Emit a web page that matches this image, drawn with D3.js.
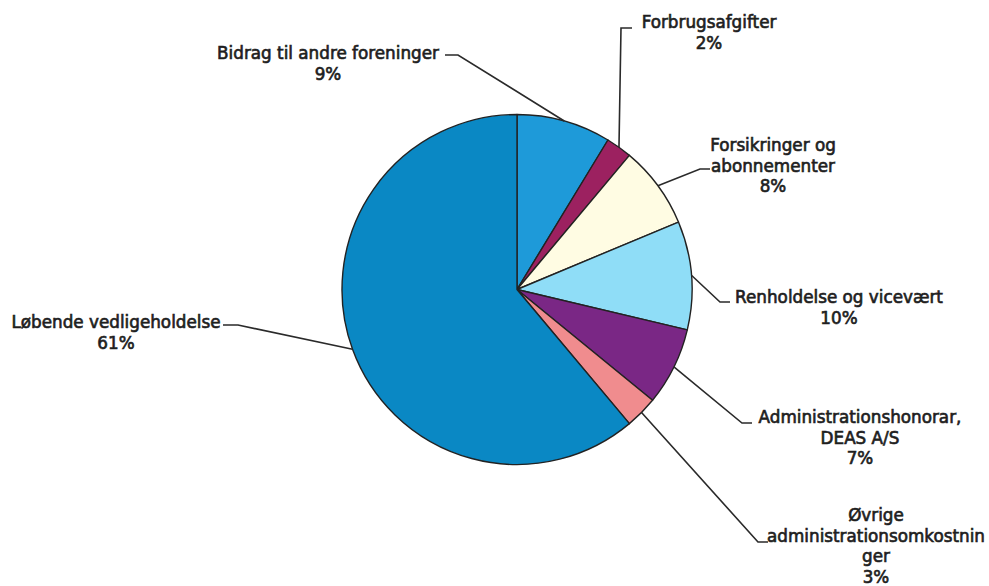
<!DOCTYPE html>
<html>
<head>
<meta charset="utf-8">
<script src="https://cdn.jsdelivr.net/npm/d3@7"></script>
<style>
html,body{margin:0;padding:0;background:#fff;}
svg{display:block;}
</style>
</head>
<body>
<svg id="chart" width="989" height="586"></svg>
<script>
// ---- data ----
const categories = [
  "Bidrag til andre foreninger",
  "Forbrugsafgifter",
  "Forsikringer og abonnementer",
  "Renholdelse og vicevært",
  "Administrationshonorar, DEAS A/S",
  "Øvrige administrationsomkostninger",
  "Løbende vedligeholdelse"
];
const values = [8.7, 2.4, 7.6, 10.0, 7.2, 3.0, 61.1];
const labelLines = [
  ["Bidrag til andre foreninger"],
  ["Forbrugsafgifter"],
  ["Forsikringer og", "abonnementer"],
  ["Renholdelse og vicevært"],
  ["Administrationshonorar,", "DEAS A/S"],
  ["Øvrige", "administrationsomkostnin", "ger"],
  ["Løbende vedligeholdelse"]
];

// ---- style / layout ----
const colors = ["#1e9ad9", "#9c2160", "#fffce3", "#8fddf7", "#7a2785", "#f08c8e", "#0a88c4"];
const cx = 517, cy = 289.5, r = 175;
// elbow, line end, label center x, first baseline y
const layout = [
  {elbow:[458,55],  end:[445,55],  tx:328, ty:59},
  {elbow:[621,28],  end:[632,28],  tx:709, ty:28},
  {elbow:[700,169], end:[710,169], tx:773, ty:151},
  {elbow:[720,302], end:[730,302], tx:839, ty:303},
  {elbow:[742,423], end:[752,423], tx:860, ty:423},
  {elbow:[758,542], end:[768,542], tx:876, ty:521},
  {elbow:[238,325], end:[223,325], tx:116, ty:328}
];
const lineH = 20.7;

const svg = d3.select("#chart");
const g = svg.append("g").attr("transform", `translate(${cx},${cy})`);

const pie = d3.pie().sort(null).value(d => d);
const arcs = pie(values);
const arc = d3.arc().innerRadius(0).outerRadius(r);
const edgeArc = d3.arc().innerRadius(r).outerRadius(r);

g.selectAll("path.slice")
  .data(arcs)
  .join("path")
  .attr("class", "slice")
  .attr("d", arc)
  .attr("fill", (d, i) => colors[i])
  .attr("stroke", "#222")
  .attr("stroke-width", 1.4)
  .attr("stroke-linejoin", "round");

// leader lines
svg.selectAll("polyline.leader")
  .data(arcs)
  .join("polyline")
  .attr("class", "leader")
  .attr("points", (d, i) => {
    const c = edgeArc.centroid(d);
    const L = layout[i];
    return [[cx + c[0], cy + c[1]], L.elbow, L.end].map(p => p.join(",")).join(" ");
  })
  .attr("fill", "none")
  .attr("stroke", "#2a2a2a")
  .attr("stroke-width", 1.6);

// labels
const fmt = v => Math.round(v) + "%";
const labels = svg.selectAll("text.lbl")
  .data(arcs)
  .join("text")
  .attr("class", "lbl")
  .attr("text-anchor", "middle")
  .attr("font-family", "'DejaVu Sans', Verdana, sans-serif")
  .attr("font-size", 16.8)
  .attr("fill", "#1e1e1e")
  .attr("stroke", "#1e1e1e")
  .attr("stroke-width", 0.65);

labels.each(function(d, i) {
  const t = d3.select(this);
  const lines = labelLines[i].concat([fmt(values[i])]);
  lines.forEach((s, k) => {
    t.append("tspan")
      .attr("x", layout[i].tx)
      .attr("y", layout[i].ty + k * lineH)
      .text(s);
  });
});
</script>
</body>
</html>
